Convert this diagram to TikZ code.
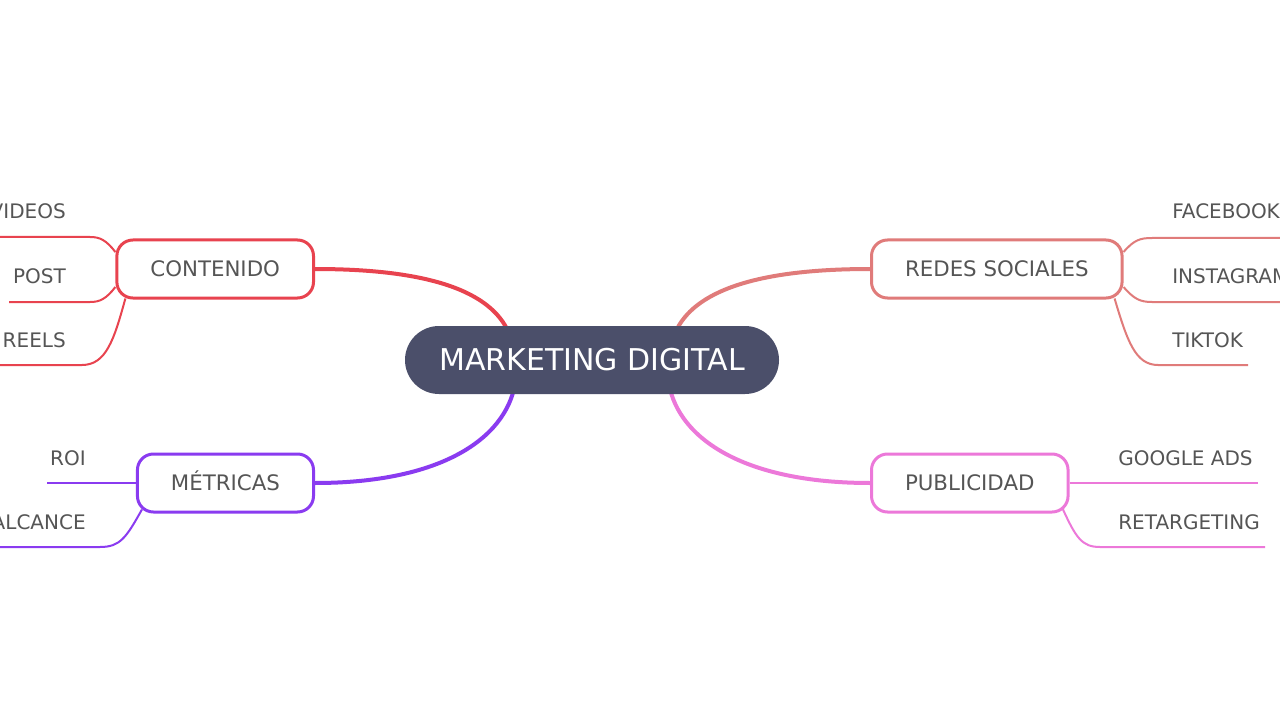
\documentclass[tikz,border=0pt]{standalone}
\usepackage{fontspec}
\setmainfont{DejaVu Sans}
\usetikzlibrary{calc,backgrounds}
\definecolor{cred}{HTML}{E8434F}
\definecolor{csalmon}{HTML}{E07B7A}
\definecolor{cpurple}{HTML}{8A3BF0}
\definecolor{cpink}{HTML}{EC78D9}
\definecolor{cdark}{HTML}{4B4F6A}
\definecolor{tgray}{HTML}{555555}
\newcommand{\pxu}{0.75pt}
\begin{document}
\begin{tikzpicture}[x=0.75pt,y=-0.75pt,
  central/.style={fill=cdark, text=white, rounded corners=34*\pxu, minimum width=374*\pxu, minimum height=68*\pxu, inner sep=0pt, font=\fontsize{22.5}{26}\selectfont, text height=16.4pt, text depth=0pt},
  topic/.style={draw, line width=3*\pxu, rounded corners=16*\pxu, fill=white, minimum height=58*\pxu, inner xsep=33.5*\pxu, inner ysep=0pt, text=tgray, font=\fontsize{16}{19}\selectfont, text height=11.7pt, text depth=0pt},
  leaf/.style={inner sep=0pt, text=tgray, font=\fontsize{15}{18}\selectfont},
  branch/.style={line width=4*\pxu, line cap=round},
  twig/.style={line width=2*\pxu}]
\clip (0,0) rectangle (1280,720);
\useasboundingbox (0,0) rectangle (1280,720);

% central and topics
\node[central] (c) at (592,360) {MARKETING DIGITAL};
\node[topic, draw=cred, anchor=east] (cont) at (315,269) {CONTENIDO};
\node[topic, draw=csalmon, anchor=west] (redes) at (870,269) {REDES SOCIALES};
\node[topic, draw=cpurple, anchor=east] (mtr) at (315,483) {MÉTRICAS};
\node[topic, draw=cpink, anchor=west] (pub) at (870,483) {PUBLICIDAD};

% leaves
\node[leaf, anchor=base east] (videos) at (66,219) {VIDEOS};
\node[leaf, anchor=base east] (post) at (66,283) {POST};
\node[leaf, anchor=base east] (reels) at (66,347) {REELS};
\node[leaf, anchor=base east] (roi) at (86,465) {ROI};
\node[leaf, anchor=base east] (alc) at (86,529) {ALCANCE};
\node[leaf, anchor=base west] (fb) at (1172,219) {FACEBOOK};
\node[leaf, anchor=base west] (ig) at (1172,283) {INSTAGRAM};
\node[leaf, anchor=base west] (tt) at (1172,347) {TIKTOK};
\node[leaf, anchor=base west] (gads) at (1118,465) {GOOGLE ADS};
\node[leaf, anchor=base west] (ret) at (1118,529) {RETARGETING};

\coordinate (videosL) at (-20,237);
\coordinate (postL) at (9,302);
\coordinate (reelsL) at (-20,365);
\coordinate (roiL) at (47,483);
\coordinate (alcL) at (-20,547);
\coordinate (fbR) at (1300,238);
\coordinate (igR) at (1300,302);
\coordinate (ttR) at (1248,365);
\coordinate (gadsR) at (1258,483);
\coordinate (retR) at (1265,547);

\begin{scope}[on background layer]
\fill[white] (0,0) rectangle (1280,720);
% main branches
\draw[branch, cred] (cont.east) .. controls +(125,0) and +(-15,-40) .. ($(c.north)+(-82,10)$);
\draw[branch, csalmon] (redes.west) .. controls +(-125,0) and +(15,-40) .. ($(c.north)+(82,10)$);
\draw[branch, cpurple] (mtr.east) .. controls +(125,0) and +(-10,55) .. ($(c.south)+(-77,-10)$);
\draw[branch, cpink] (pub.west) .. controls +(-125,0) and +(10,55) .. ($(c.south)+(77,-10)$);
% contenido leaves
\draw[twig, cred] ($(cont.west)+(0,-17)$) .. controls (106,240) and (100,237) .. (90,237) -- (videosL);
\draw[twig, cred] ($(cont.west)+(0,18)$) .. controls (106,299) and (100,302) .. (90,302) -- (postL);
\draw[twig, cred] ($(cont.south west)+(10,-1)$) .. controls (114,340) and (106,365) .. (82,365) -- (reelsL);
% metricas leaves
\draw[twig, cpurple] (mtr.west) -- (roiL);
\draw[twig, cpurple] ($(mtr.south west)+(6,-4)$) .. controls (126,538) and (120,547) .. (100,547) -- (alcL);
% redes leaves
\draw[twig, csalmon] ($(redes.east)+(0,-17)$) .. controls (1134,240) and (1140,238) .. (1152,238) -- (fbR);
\draw[twig, csalmon] ($(redes.east)+(0,18)$) .. controls (1134,299) and (1140,302) .. (1152,302) -- (igR);
\draw[twig, csalmon] ($(redes.south east)+(-9,-1)$) .. controls (1127,340) and (1135,365) .. (1158,365) -- (ttR);
% publicidad leaves
\draw[twig, cpink] (pub.east) -- (gadsR);
\draw[twig, cpink] ($(pub.south east)+(-7,-5)$) .. controls (1076,538) and (1082,547) .. (1100,547) -- (retR);
\end{scope}
\end{tikzpicture}
\end{document}
